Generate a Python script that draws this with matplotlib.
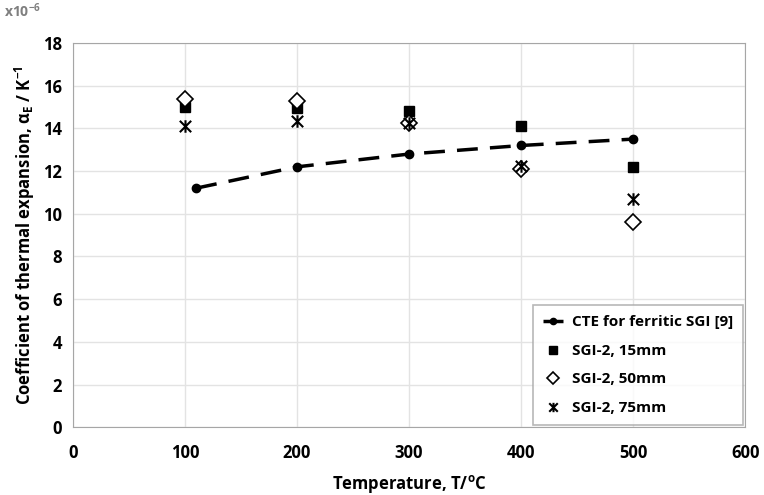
import matplotlib
matplotlib.use('Agg')
import matplotlib.pyplot as plt
from matplotlib.path import Path

plt.rcParams['font.family'] = ['Open Sans', 'DejaVu Sans']
plt.rcParams['font.weight'] = 'bold'
plt.rcParams['mathtext.default'] = 'regular'

# data
temp_cte = [110, 200, 300, 400, 500]
cte = [11.2, 12.2, 12.8, 13.2, 13.5]

temps = [100, 200, 300, 400, 500]
sgi_15 = [15.0, 14.95, 14.8, 14.1, 12.2]
sgi_50 = [15.4, 15.3, 14.25, 12.1, 9.6]
sgi_75 = [14.1, 14.35, 14.25, 12.25, 10.7]

# X plus vertical bar, like the excel star marker
star = Path([(-1, -1), (1, 1), (-1, 1), (1, -1), (0, -1.1), (0, 1.1)],
            [Path.MOVETO, Path.LINETO] * 3)

fig = plt.figure(figsize=(7.64, 4.95), dpi=100)
ax = fig.add_axes([0.0955, 0.137, 0.88, 0.776])

ax.plot(temp_cte, cte, color='black', lw=2.5, dashes=(6, 3.5), marker='o',
        ms=6, label='CTE for ferritic SGI [9]', zorder=3)
ax.plot(temps, sgi_15, ls='none', marker='s', ms=7.5, color='black',
        label='SGI-2, 15mm', zorder=4)
ax.plot(temps, sgi_50, ls='none', marker='D', ms=8.5, mfc='white', mec='black',
        mew=1.2, label='SGI-2, 50mm', zorder=4)
ax.plot(temps, sgi_75, ls='none', marker=star, ms=9, color='black',
        mew=1.5, label='SGI-2, 75mm', zorder=4)

ax.set_xlim(0, 600)
ax.set_ylim(0, 18)
ax.set_xticks(range(0, 601, 100))
ax.set_yticks(range(0, 19, 2))
ax.grid(True, color='#e3e3e3', lw=1)
ax.set_axisbelow(True)
for s in ax.spines.values():
    s.set_color('#a6a6a6')
ax.tick_params(axis='y', length=0, labelsize=12, pad=8)
ax.tick_params(axis='x', length=0, labelsize=12, pad=12)

ax.set_xlabel('Temperature, T/$^{o}$C', fontsize=12, fontweight='bold',
              labelpad=8)
ax.set_ylabel(r'Coefficient of thermal expansion, α$_{E}$ / K$^{-1}$',
              fontsize=12, fontweight='bold')
fig.text(0.005, 0.965, 'x10$^{-6}$', fontsize=10, color='#7f7f7f',
         fontweight='bold')

leg = ax.legend(loc='lower right', fontsize=11, frameon=True, fancybox=False,
                edgecolor='#a6a6a6', handlelength=1.3, handletextpad=0.6,
                borderpad=0.65, labelspacing=0.95, markerscale=0.75,
                borderaxespad=0.15, bbox_to_anchor=(1, 0))
leg.get_frame().set_linewidth(1.2)

fig.savefig('out.png', dpi=100)
